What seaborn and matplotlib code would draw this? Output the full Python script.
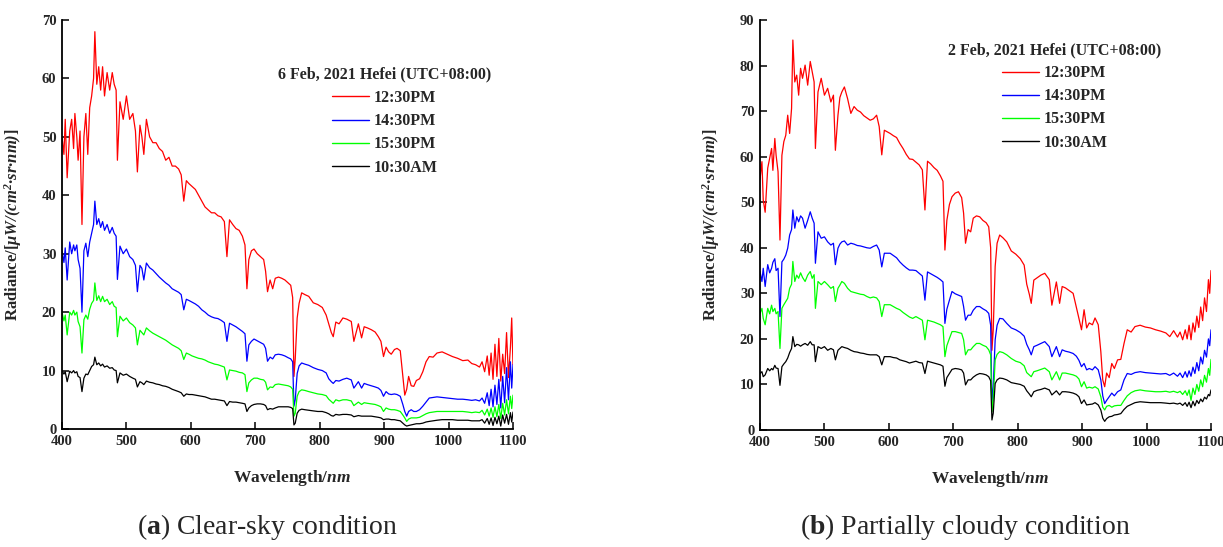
import matplotlib
matplotlib.use("Agg")
import matplotlib.pyplot as plt
import pandas as pd
import seaborn as sns

# Shared wavelength grid (nm)
wavelength = [
    # 400-486
    400, 403, 405, 408, 412, 415, 418, 420, 423, 425, 428, 431, 434, 437, 440,
    443, 446, 449, 451, 454, 457, 460, 463, 466, 470, 474, 478, 481, 484, 486,
    # 490-589
    490, 495, 500, 505, 510, 514, 517, 521, 524, 527, 531, 536, 541, 546, 551,
    556, 561, 566, 571, 576, 581, 585, 589,
    # 593-687
    593, 597, 602, 607, 612, 617, 622, 627, 632, 637, 642, 647, 652, 656, 660,
    665, 670, 675, 680, 684, 687,
    # 690-758
    690, 694, 698, 703, 708, 713, 716, 719, 723, 727, 731, 736, 741, 746, 751,
    755, 758,
    # 760-865
    760, 762, 765, 768, 772, 777, 783, 790, 797, 804, 810, 814, 818, 821, 825,
    830, 836, 842, 849, 853, 860, 865,
    # 869-946
    869, 874, 880, 886, 891, 895, 899, 903, 907, 911, 916, 920, 925, 929, 932,
    935, 938, 942, 946,
    # 950-1048
    950, 955, 960, 965, 970, 976, 982, 990, 998, 1006, 1014, 1022, 1030, 1036,
    1042, 1048,
    # 1052-1100
    1052, 1056, 1060, 1063, 1066, 1069, 1072, 1075, 1078, 1081, 1084, 1087,
    1090, 1093, 1096, 1098, 1100,
]

times = ["12:30PM", "14:30PM", "15:30PM", "10:30AM"]
colors = ["#ff0000", "#0000ff", "#00ff00", "#000000"]

# ---- 6 Feb 2021, clear sky ----
clear_1230 = [
    50, 47, 53, 43, 51, 53, 48, 54, 50, 46, 51, 35, 50, 54, 47,
    55, 57, 60, 68, 59, 62, 58, 62, 57, 61, 58, 61, 59, 58, 46,
    56, 53, 57, 53, 54, 51, 44, 52, 50, 47, 53, 50, 49, 49, 48,
    47.5, 46, 46.5, 45, 45, 44.5, 43.5, 39,
    42.5, 42, 41.5, 41, 40, 39, 38, 37.5, 37, 37, 36.5, 36.3, 35.5, 29.5, 35.8,
    35, 34.3, 34, 33, 31.5, 24,
    29, 30.5, 30.8, 30, 29.5, 29, 27, 23.5, 25.5, 24, 25.8, 26, 25.8, 25.5, 25,
    24.6, 22.5,
    9, 12, 19, 21.5, 23.3, 23, 22.7, 21.6, 21.3, 20.8, 19.5, 18, 16.5, 15.8, 18.3,
    18, 19, 18.8, 18.4, 15, 18, 15.6,
    17.5, 17.3, 17, 16.6, 15.8, 15, 12.4, 14, 13.2, 12.8, 13.6, 13.8, 13.4, 9, 5.8,
    6.8, 9, 7.4, 7.3,
    8.3, 8.6, 9.8, 11.5, 12.4, 12.3, 13, 13.2, 12.8, 12.4, 12.1, 11.7, 11.8, 11.2,
    11, 10.6,
    11.5, 9.8, 12.5, 9.2, 13, 8.5, 14.5, 9, 15.5, 8.2, 12.8, 9.5,
    16.5, 8.8, 14, 19, 11,
]
clear_1430 = [
    30.5, 28.5, 31, 25.5, 32, 30, 31.5, 30.5, 31.5, 29, 27.5, 20, 30.5, 31.8, 29.5,
    32, 33.5, 35, 39, 35, 36, 34.5, 35.5, 34, 35, 33.5, 34.5, 33.5, 33, 25.6,
    31.3, 30, 30.8, 29.5, 29, 28, 23.5, 28, 27.5, 25.5, 28.4, 27.6, 27.2, 26.6, 26,
    25.5, 25, 24.6, 24, 23.7, 23.4, 23, 20.4,
    22.2, 22, 21.7, 21.4, 21, 20.4, 20, 19.5, 19.2, 19, 18.9, 18.6, 18.2, 15, 18.1,
    17.8, 17.5, 17.1, 16.7, 16.3, 11.6,
    14.4, 15, 15.4, 15.1, 14.8, 14.5, 13.8, 11.6, 12.3, 12, 12.7, 12.8, 12.7, 12.5, 12.2,
    12, 11.5,
    3.9, 5, 9.5, 10.8, 11.3, 11.1, 10.9, 10.5, 10.2, 10, 9.6, 8.6, 8.1, 7.8, 8.3,
    8.2, 8.5, 8.7, 8.4, 7, 8.1, 7,
    7.8, 7.6, 7.4, 7.2, 7, 6.6, 5.6, 6.4, 6, 5.9, 6, 5.9, 5.6, 4.2, 3,
    2.2, 3, 3.3, 3,
    3, 3.3, 3.9, 4.6, 5.3, 5.4, 5.5, 5.4, 5.3, 5.2, 5.1, 5.1, 5, 4.9,
    5, 4.8,
    5.3, 4.4, 6.2, 4, 6.8, 3.8, 7.5, 4.2, 8.5, 3.6, 9, 4.5,
    10.5, 5, 11.5, 7, 11,
]
clear_1530 = [
    20, 18.5, 19.5, 16.1, 20, 19.5, 20.3, 19.5, 20, 18.4, 17.5, 13, 18.7, 19.5, 18.8,
    20.5, 21.5, 22, 25, 22, 22.8, 21.8, 22.7, 21.8, 22.2, 21.3, 21.8, 21, 20.8, 15.8,
    19.3, 18.5, 19, 18.2, 17.8, 17.3, 14.4, 16.9, 16.5, 16.1, 17.3, 16.8, 16.4, 16.1, 15.8,
    15.5, 15.2, 14.8, 14.4, 14.1, 13.8, 13.4, 11.9,
    13, 12.8, 12.5, 12.3, 12.1, 12, 11.8, 11.5, 11.3, 11.1, 11, 10.8, 10.6, 8.4, 10.1,
    10, 9.9, 9.7, 9.6, 9.3, 6.4,
    7.9, 8.4, 8.7, 8.7, 8.5, 8.4, 8, 6.7, 7.2, 7.1, 7.6, 7.7, 7.6, 7.5, 7.4,
    7.2, 6.8,
    2.2, 2.7, 5.6, 6.4, 6.7, 6.6, 6.4, 6.2, 6, 5.9, 5.7, 5.1, 4.7, 4.4, 5,
    4.8, 5, 5, 4.8, 4, 4.6, 4.2,
    4.5, 4.4, 4.3, 4.2, 4, 3.8, 3, 3.6, 3.4, 3.3, 3.3, 3.2, 3, 2.4, 1.9,
    1.3, 1.7, 1.9, 1.9,
    1.9, 2, 2.3, 2.6, 2.8, 2.9, 3, 3, 3, 3, 3, 3, 2.9, 2.8,
    2.9, 2.8,
    3.2, 2.4, 3.4, 2.2, 3.6, 2, 3.8, 2.1, 4.2, 1.8, 4.4, 2.4,
    5, 2.6, 5.6, 3.5, 5.8,
]
clear_1030 = [
    10, 9.4, 9.8, 8.1, 9.9, 9.6, 10, 9.6, 9.8, 9, 8.8, 6.4, 8.7, 9.4, 9.3,
    10, 10.7, 11, 12.3, 11, 11.3, 10.8, 11.1, 10.6, 10.8, 10.4, 10.5, 10.1, 10, 7.9,
    9.6, 9.2, 9.4, 9, 8.7, 8.5, 7.2, 8.1, 7.9, 7.6, 8.2, 8, 7.9, 7.7, 7.6,
    7.4, 7.3, 7.1, 6.8, 6.6, 6.4, 6.2, 5.6,
    6, 5.9, 5.9, 5.8, 5.7, 5.6, 5.5, 5.3, 5.1, 5.1, 5, 4.9, 4.8, 4, 4.7,
    4.6, 4.6, 4.5, 4.4, 4.3, 3,
    3.6, 4, 4.2, 4.3, 4.3, 4.2, 4, 3.3, 3.5, 3.4, 3.6, 3.8, 3.8, 3.8, 3.8,
    3.7, 3.5,
    0.7, 1, 2.7, 3.2, 3.4, 3.3, 3.2, 3.1, 3, 3, 2.8, 2.6, 2.3, 2.2, 2.5,
    2.4, 2.5, 2.5, 2.4, 2.1, 2.3, 2.2,
    2.2, 2.2, 2.2, 2.1, 2, 1.9, 1.6, 1.7, 1.7, 1.6, 1.6, 1.5, 1.4, 1, 0.7,
    0.5, 0.6, 0.7, 0.8,
    0.9, 0.9, 1, 1.2, 1.3, 1.4, 1.5, 1.6, 1.6, 1.6, 1.5, 1.5, 1.5, 1.4,
    1.4, 1.4,
    1.6, 1, 1.8, 0.8, 1.9, 0.6, 2, 0.9, 2.2, 0.5, 2.4, 1,
    2.5, 0.8, 2.8, 1.2, 2.9,
]

# ---- 2 Feb 2021, partially cloudy ----
cloudy_1230 = [
    55, 58.9, 50.5, 47.8, 57.5, 59.6, 61.8, 57, 64, 60.3, 56.7, 41.7, 60.3, 63.3, 64.7,
    69.1, 65.1, 70.6, 85.6, 76.4, 77.9, 73.5, 79.4, 77.2, 80.1, 75.7, 80.9, 78.6, 76.4, 61.8,
    74.2, 77.2, 73.5, 75, 72, 73.5, 61.4, 69.1, 73, 74.2, 75.3, 72.7, 69.5, 71, 70.2,
    69.8, 69, 68.5, 68, 68.3, 69.1, 66.6, 60.4,
    65.8, 65.5, 65.1, 64.6, 64.2, 62.9, 61.8, 60.5, 59.5, 59.4, 58.8, 58.2, 57.1, 48.3, 59,
    58.4, 57.6, 57, 55.8, 54.6, 39.5,
    46, 49.5, 51.2, 52, 52.3, 51, 47.6, 41, 44, 43.5, 46.5, 47, 46.8, 46, 45.5,
    44.6, 40,
    17.5, 22, 35.9, 41, 42.8, 42.2, 41.3, 39.3, 38.6, 37.6, 36.2, 32, 29.8, 27.8, 32.9,
    33.4, 34, 34.4, 33, 27.4, 32.5, 27.8,
    31.5, 31.2, 30.6, 30, 27, 24.5, 22, 26.4, 22.4, 23.5, 23.1, 24.6, 23.1, 17.2, 11,
    9.5, 12.5, 11.5, 14.6,
    13.5, 15.4, 15.5, 19, 22, 21.5, 22.7, 23, 22.6, 22.4, 22, 21.7, 21.3, 20.5,
    21.8, 20.4,
    21.5, 19.8, 22, 20, 23, 19.8, 23.5, 21.5, 25, 22.5, 27, 24,
    29, 26, 33, 30, 35,
]
cloudy_1430 = [
    34.8, 32.6, 35.5, 31.5, 36.3, 34.5, 35.5, 36.8, 37.6, 35, 35.5, 24.9, 36.9, 37.5, 38.4,
    39.9, 42.8, 44, 48.3, 44.3, 46.8, 45.7, 47, 46.5, 44.3, 46, 47.9, 46.5, 45.4, 36.6,
    43.5, 42.1, 42.4, 41.3, 40.6, 41, 36.3, 39.9, 40.8, 41.3, 41.5, 40.6, 41, 40.8, 40.5,
    40.4, 40.2, 40, 39.9, 40.3, 40.6, 39.5, 35.8,
    38.8, 38.8, 38.8, 38.3, 37.8, 36.9, 36.2, 35.6, 35.1, 35.1, 35, 34.4, 33.8, 28.5, 34.7,
    34.3, 33.9, 33.5, 33, 32.5, 23.4,
    26.5, 28.5, 30.4, 29.9, 29.6, 29.3, 27.1, 24.1, 25.2, 25.2, 26.3, 27.1, 27.1, 26.6, 26.2,
    25.6, 23,
    5.8, 9.5, 19.8, 23, 24.5, 24.4, 23.4, 22.4, 22, 21.4, 20.6, 18.8, 17.6, 16.5, 18.3,
    18.6, 19, 19.4, 18.3, 16.1, 18.3, 16.1,
    17.6, 17.3, 17.1, 16.8, 16.2, 15.3, 13.9, 14.6, 13.2, 13.5, 13.2, 13.9, 13.2, 11, 7.5,
    5.8, 6.5, 7.3, 8.1,
    7.5, 8.4, 8.8, 11, 12.4, 12.2, 12.6, 12.8, 12.6, 12.5, 12.4, 12.3, 12.4, 12,
    12.5, 11.8,
    12.5, 11.5, 12.8, 11.6, 13, 11.8, 13.8, 12.4, 14.8, 13, 16, 14.5,
    17.5, 16, 20, 18.5, 22,
]
cloudy_1530 = [
    25.6, 26.7, 24.5, 23.1, 26.7, 25.5, 27.4, 26, 26.7, 25.5, 26, 17.9, 26.7, 27.5, 28.2,
    28.9, 31.1, 32, 37, 32.6, 34, 33.3, 34.5, 33.5, 32.6, 34, 34.8, 33.3, 34.1, 26.7,
    32.6, 31.9, 32.6, 31.9, 31.1, 31.5, 28.2, 31.1, 31.8, 32.6, 32.2, 31.1, 30.4, 30.2, 30,
    29.8, 29.7, 29.3, 29, 29.2, 29, 28.2, 24.9,
    27.5, 27.5, 27.5, 27.1, 26.7, 26.4, 25.8, 25.3, 24.8, 24.5, 24.9, 24.5, 24.1, 19.8, 24.1,
    23.9, 23.7, 23.4, 23.1, 22.7, 16.1,
    18.5, 20.1, 21.6, 21.6, 21.4, 21.2, 19.8, 16.5, 17.6, 17.6, 18.3, 19, 19, 18.6, 18.3,
    17.6, 16.5,
    4, 6.6, 15.4, 16.6, 17.2, 17, 16.5, 15.7, 15.1, 14.8, 14.1, 12.6, 12.1, 11.7, 12.8,
    13, 13.3, 13.6, 12.8, 11, 12.8, 11,
    12.5, 12.5, 12.3, 12.1, 11.8, 11.2, 9.5, 10.6, 9.2, 9.4, 9.2, 9.5, 9, 7.3, 5,
    4.4, 5.2, 5.4, 5,
    5.3, 5.4, 5.4, 6.5, 7.5, 8.2, 8.6, 8.8, 8.6, 8.5, 8.4, 8.4, 8.5, 8.3,
    8.5, 8.2,
    8.5, 7.8, 8.6, 7.6, 8.8, 6.5, 9.2, 7.8, 10, 8.5, 11, 9.5,
    12, 10.5, 13.5, 12, 15.5,
]
cloudy_1030 = [
    12.4, 12.8, 11.7, 12.1, 13.5, 13, 13.5, 13.2, 14.2, 13.6, 13.5, 9.8, 13.9, 14.5, 15,
    15.8, 17, 17.9, 20.5, 18.3, 18.8, 18.7, 18.4, 18.7, 19, 18.6, 19.4, 18.7, 18.7, 15,
    18.3, 17.9, 18.3, 17.5, 17.9, 17.6, 15.4, 17.5, 17.9, 18.3, 18.1, 17.9, 17.5, 17.2, 17.1,
    16.9, 16.8, 16.6, 16.5, 16.5, 16.5, 16.1, 14.3,
    16.1, 16.1, 16.1, 15.9, 15.8, 15.4, 15.2, 15, 14.7, 14.9, 15.1, 14.8, 14.7, 12.4, 15.1,
    14.9, 14.7, 14.5, 14.3, 14, 9.6,
    11.5, 12.4, 13.3, 13.5, 13.4, 13.2, 12.5, 9.9, 11, 11, 11.6, 12.1, 12.4, 12.3, 12.1,
    11.7, 10.8,
    2.2, 3.7, 10.2, 11, 11.4, 11.3, 11, 10.4, 10.2, 10, 9.6, 8.6, 7.9, 7.3, 8.4,
    8.7, 8.9, 9.2, 8.8, 7.7, 8.6, 7.7,
    8.4, 8.4, 8.3, 8.1, 7.8, 7.3, 5.8, 6.6, 5.5, 5.6, 5.7, 6, 5.5, 4.4, 2.6,
    1.9, 2.5, 2.9, 3,
    3.3, 3.4, 3.6, 4.5, 5.2, 5.6, 6, 6.2, 6.1, 6, 6, 6, 5.9, 5.8,
    5.9, 5.7,
    5.9, 5.4, 6, 5.2, 6.1, 4.9, 6.3, 5.3, 6.5, 5.8, 6.8, 6.2,
    7.2, 6.8, 7.8, 7.5, 8.8,
]

panels = [
    {
        "series": [clear_1230, clear_1430, clear_1530, clear_1030],
        "title": "6 Feb, 2021 Hefei (UTC+08:00)",
        "ylim": (0, 70),
        "caption": "Clear-sky condition",
        "tag": "a",
    },
    {
        "series": [cloudy_1230, cloudy_1430, cloudy_1530, cloudy_1030],
        "title": "2 Feb, 2021 Hefei (UTC+08:00)",
        "ylim": (0, 90),
        "caption": "Partially cloudy condition",
        "tag": "b",
    },
]

sns.set_style("ticks")
plt.rcParams.update({
    "font.family": ["Liberation Serif", "DejaVu Serif"],
    "mathtext.fontset": "custom",
    "mathtext.rm": "Liberation Serif",
    "mathtext.it": "Liberation Serif:italic",
    "mathtext.bf": "Liberation Serif:bold",
    "mathtext.bfit": "Liberation Serif:bold:italic",
    "xtick.direction": "in",
    "ytick.direction": "in",
})

fig = plt.figure(figsize=(12.23, 5.47), dpi=100)
axes_rects = [
    [62 / 1223, 1 - 429 / 547, 451 / 1223, 409 / 547],
    [760 / 1223, 1 - 430 / 547, 451 / 1223, 410 / 547],
]
legend_anchor = [(0.716, 0.905), (0.654, 0.966)]
caption_x = [267 / 1223, 965 / 1223]

for i, (panel, rect) in enumerate(zip(panels, axes_rects)):
    ax = fig.add_axes(rect)
    frames = []
    for t, vals in zip(times, panel["series"]):
        frames.append(pd.DataFrame({"wavelength": wavelength, "radiance": vals, "time": t}))
    df = pd.concat(frames, ignore_index=True)
    sns.lineplot(data=df, x="wavelength", y="radiance", hue="time",
                 hue_order=times, palette=colors, linewidth=0.9,
                 estimator=None, sort=False, ax=ax)

    ax.set_xlim(400, 1100)
    ax.set_ylim(*panel["ylim"])
    ax.set_xticks(range(400, 1101, 100))
    ax.set_yticks(range(0, panel["ylim"][1] + 1, 10))
    sns.despine(ax=ax)
    for side in ("left", "bottom"):
        ax.spines[side].set_linewidth(1.3)
        ax.spines[side].set_color("black")
    ax.tick_params(axis="both", length=5, width=1.1, color="black",
                   labelsize=10.5, pad=4)
    for lab in ax.get_xticklabels() + ax.get_yticklabels():
        lab.set_fontweight("bold")

    ax.set_xlabel(r"Wavelength/$\mathbfit{nm}$", fontsize=12.5, fontweight="bold")
    ax.set_ylabel("Radiance/[$\\mathbfit{\\mu W/(cm^{2}\u00b7sr\u00b7nm)}$]",
                  fontsize=12, fontweight="bold")
    ax.xaxis.set_label_coords(0.51, -0.096)
    ax.yaxis.set_label_coords(-0.084, 0.5)

    handles, labels = ax.get_legend_handles_labels()
    leg = ax.legend(handles, labels, title=panel["title"], loc="upper center",
                    bbox_to_anchor=legend_anchor[i], frameon=False,
                    prop={"weight": "bold", "size": 11.5},
                    title_fontproperties={"weight": "bold", "size": 11.5},
                    handlelength=2.3, handletextpad=0.3, labelspacing=0.45,
                    borderpad=0)
    for line in leg.get_lines():
        line.set_linewidth(1.0)

    fig.text(caption_x[i], 1 - 527 / 547,
             r"($\mathbf{%s}$) %s" % (panel["tag"], panel["caption"]),
             ha="center", va="center", fontsize=20)

fig.savefig("out.png", dpi=100)
